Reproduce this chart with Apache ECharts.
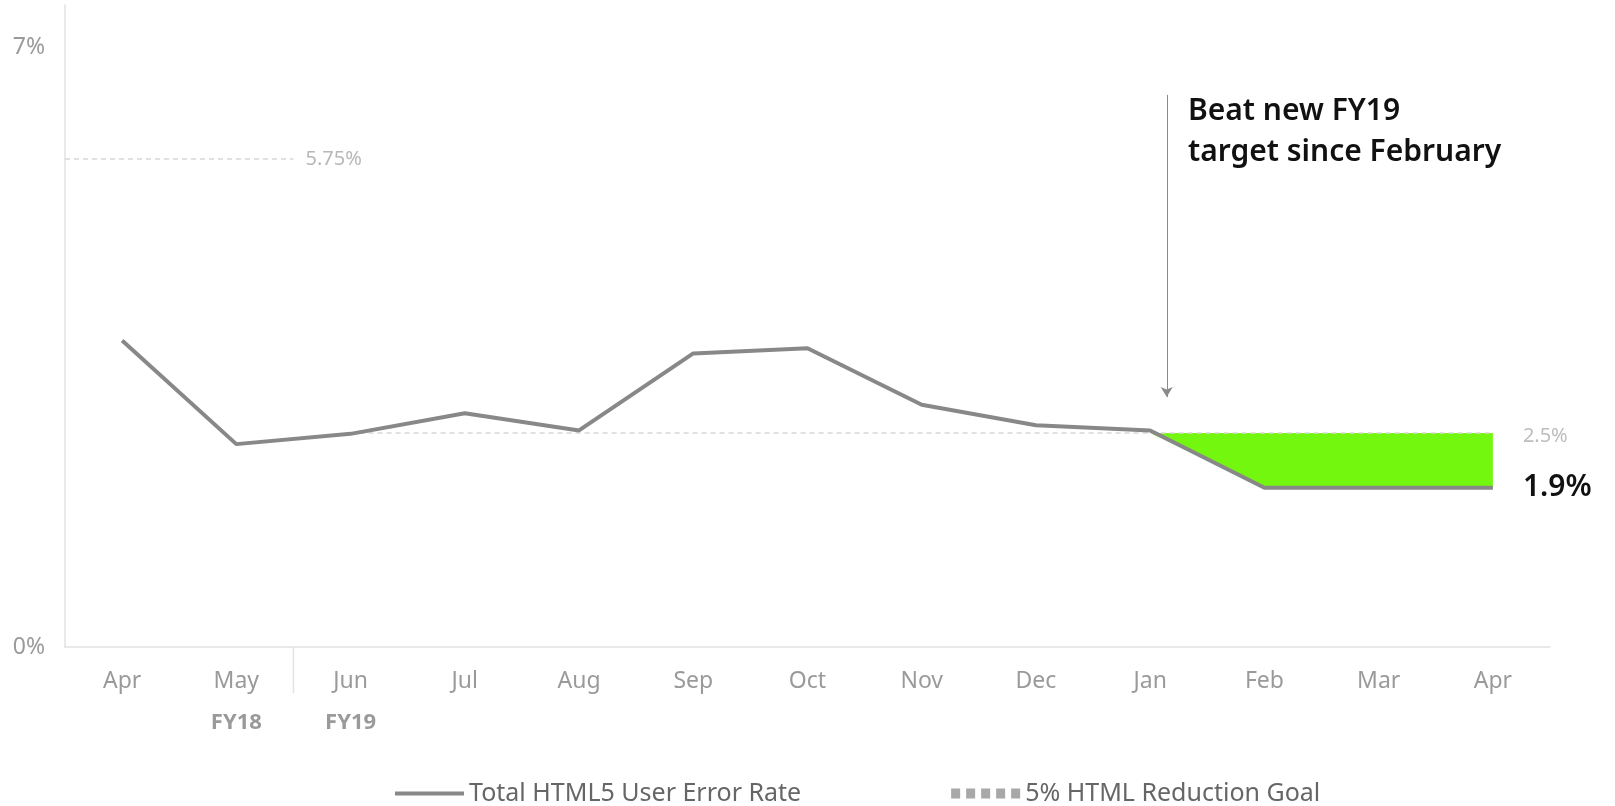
<!DOCTYPE html>
<html>
<head>
<meta charset="utf-8">
<script src="https://cdn.jsdelivr.net/npm/echarts@6/dist/echarts.min.js"></script>
<style>
  html, body { margin: 0; padding: 0; background: #fff; }
  #chart { width: 1615px; height: 806px; }
</style>
</head>
<body>
<div id="chart"></div>
<script>
// ---- data ----
var months = ['Apr', 'May', 'Jun', 'Jul', 'Aug', 'Sep', 'Oct', 'Nov', 'Dec', 'Jan', 'Feb', 'Mar', 'Apr'];
var fyLabels = { 1: 'FY18', 2: 'FY19' };
var errorRate = [3.58, 2.37, 2.49, 2.73, 2.53, 3.43, 3.49, 2.83, 2.59, 2.53, 1.86, 1.86, 1.86];
var goalFY18 = 5.7;               // position of the drawn FY18 goal line
var goalFY18Label = '5.75%';
var goalFY19 = 2.5;
var goalFY19Label = '2.5%';
var goalFY18Span = [-0.5, 1.5];   // category positions (value axis aligned with categories)
var goalFY19Span = [2, 12];
var fyDividerX = 1.5;
var fyDividerDepth = -0.54;
var fillStartIndex = 9;           // Jan: beat target from here on
var arrowX = 9.145;
var arrowY = [6.45, 2.92];
var yTickLabels = [0, 7];
var seriesNames = ['Total HTML5 User Error Rate', '5% HTML Reduction Goal'];
var annotation = 'Beat new FY19\ntarget since February';

// ---- derived for the library ----
var fillBase = errorRate.map(function (v, i) { return i < fillStartIndex ? null : Math.min(v, goalFY19); });
var fillBand = errorRate.map(function (v, i) { return i < fillStartIndex ? null : goalFY19 - Math.min(v, goalFY19); });

var FONT = 'Noto Sans';
var chart = echarts.init(document.getElementById('chart'));
chart.setOption({
  animation: false,
  backgroundColor: '#ffffff',
  textStyle: { fontFamily: FONT },
  grid: { left: 65, right: 65, top: 5, bottom: 159 },
  xAxis: [
    {
      type: 'category',
      data: months,
      boundaryGap: true,
      axisLine: { lineStyle: { color: '#e2e2e2', width: 1.5 } },
      axisTick: { show: false },
      axisLabel: {
        color: '#9a9a9a',
        fontSize: 23,
        fontFamily: FONT,
        margin: 13,
        lineHeight: 42,
        interval: 0,
        formatter: function (v, i) {
          return fyLabels[i] ? v + '\n{fy|' + fyLabels[i] + '}' : v;
        },
        rich: {
          fy: { fontSize: 22, fontWeight: 'bold', color: '#9a9a9a', lineHeight: 42, fontFamily: FONT }
        }
      },
      splitLine: { show: false }
    },
    {
      type: 'value',
      min: -0.5,
      max: months.length - 0.5,
      show: false
    }
  ],
  yAxis: {
    type: 'value',
    min: 0,
    max: 7.5,
    interval: 0.5,
    axisLine: { show: true, onZero: false, lineStyle: { color: '#e2e2e2', width: 1.5 } },
    axisTick: { show: false },
    splitLine: { show: false },
    axisLabel: {
      color: '#9a9a9a',
      fontSize: 23,
      margin: 20,
      fontFamily: FONT,
      formatter: function (v) { return yTickLabels.indexOf(v) >= 0 ? v + '%' : ''; }
    }
  },
  legend: {
    left: 390,
    top: 776,
    selectedMode: false,
    itemWidth: 69,
    itemHeight: 10,
    itemGap: 150,
    textStyle: { color: '#666666', fontSize: 25, fontFamily: FONT },
    data: [
      { name: seriesNames[0], icon: 'path://M0,0h0.01v0.01h-0.01z M0,3h69v4h-69z M0,9.99h0.01v0.01h-0.01z' },
      { name: seriesNames[1], icon: 'path://M0,0h9v10h-9z M15,0h9v10h-9z M30,0h9v10h-9z M45,0h9v10h-9z M60,0h9v10h-9z' }
    ]
  },
  series: [
    {
      name: 'fyDivider',
      type: 'line',
      xAxisIndex: 1,
      data: [[fyDividerX, 0], [fyDividerX, fyDividerDepth]],
      clip: false,
      showSymbol: false,
      silent: true,
      lineStyle: { color: '#e2e2e2', width: 1.5 },
      z: 1
    },
    {
      name: 'fillBase',
      type: 'line',
      stack: 'beat',
      xAxisIndex: 0,
      data: fillBase,
      showSymbol: false,
      lineStyle: { opacity: 0 },
      silent: true,
      z: 1
    },
    {
      name: 'fillBand',
      type: 'line',
      stack: 'beat',
      xAxisIndex: 0,
      data: fillBand,
      showSymbol: false,
      lineStyle: { opacity: 0 },
      areaStyle: { color: '#74f70e', opacity: 1 },
      silent: true,
      z: 1
    },
    {
      name: seriesNames[1],
      type: 'line',
      xAxisIndex: 1,
      data: [[goalFY18Span[0], goalFY18], [goalFY18Span[1], goalFY18]],
      showSymbol: false,
      itemStyle: { color: '#a8a8a8' },
      lineStyle: { color: '#d8d8d8', width: 1.5, type: [5, 4] },
      endLabel: { show: true, formatter: goalFY18Label, color: '#b8b8b8', fontSize: 20, distance: 12, fontFamily: FONT },
      z: 2
    },
    {
      name: seriesNames[1],
      type: 'line',
      xAxisIndex: 1,
      data: [[goalFY19Span[0], goalFY19], [goalFY19Span[1], goalFY19]],
      showSymbol: false,
      itemStyle: { color: '#a8a8a8' },
      lineStyle: { color: '#d8d8d8', width: 1.5, type: [5, 4] },
      endLabel: { show: true, formatter: goalFY19Label, color: '#bdbdbd', fontSize: 20, distance: 30, offset: [0, 3], fontFamily: FONT },
      markLine: {
        silent: true,
        symbol: ['none', 'arrow'],
        symbolSize: [9, 10],
        label: { show: false },
        lineStyle: { color: '#8a8a8a', width: 1, type: 'solid' },
        data: [[{ coord: [arrowX, arrowY[0]] }, { coord: [arrowX, arrowY[1]] }]]
      },
      z: 3
    },
    {
      name: seriesNames[0],
      type: 'line',
      xAxisIndex: 0,
      data: errorRate,
      showSymbol: false,
      itemStyle: { color: '#888888' },
      lineStyle: { color: '#888888', width: 4 },
      endLabel: {
        show: true,
        distance: 30,
        color: '#111111',
        fontSize: 30,
        fontWeight: 600,
        fontFamily: FONT,
        formatter: function (p) { return p.value.toFixed(1) + '%'; }
      },
      z: 4
    }
  ],
  graphic: [
    {
      type: 'text',
      left: 1188,
      top: 91,
      style: {
        text: annotation,
        fill: '#111111',
        fontSize: 30,
        fontWeight: 600,
        fontFamily: FONT,
        lineHeight: 41
      }
    }
  ]
});
</script>
</body>
</html>
